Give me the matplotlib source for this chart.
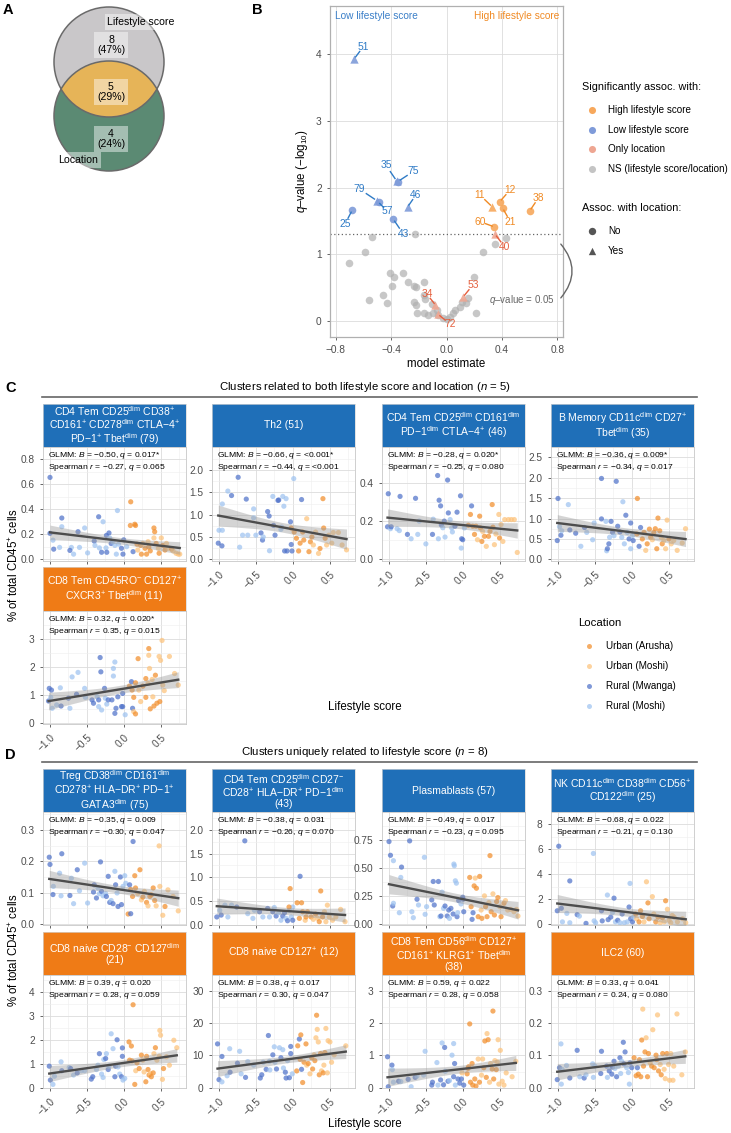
import numpy as np
import matplotlib

matplotlib.use("Agg")
import matplotlib.pyplot as plt
from matplotlib.patches import Circle, FancyArrowPatch

W, H = 731, 1133
plt.rcParams["font.family"] = ["Liberation Sans", "DejaVu Sans"]
plt.rcParams["mathtext.fontset"] = "custom"
plt.rcParams["mathtext.rm"] = "Liberation Sans"
plt.rcParams["mathtext.it"] = "Liberation Sans:italic"
plt.rcParams["mathtext.bf"] = "Liberation Sans:bold"

# ---------------- Panel A: Venn counts ----------------
VENN_SETS = ["Lifestyle score", "Location"]
VENN_COUNTS = [8, 5, 4]          # lifestyle only, both, location only
VENN_PCT = [47, 29, 24]

# ---------------- Panel B: volcano ----------------
# labelled clusters: id, model estimate, -log10 q, category, assoc. with location
B_ID = [51, 35, 75, 79, 57, 46, 25, 43, 11, 12, 21, 38, 60, 40, 34, 72, 53]
B_EST = [-0.665, -0.36, -0.35, -0.50, -0.49, -0.28, -0.68, -0.385,
         0.33, 0.385, 0.405, 0.60, 0.345, 0.35, -0.08, -0.06, 0.12]
B_Q = [3.93, 2.10, 2.09, 1.80, 1.78, 1.71, 1.66, 1.53,
       1.71, 1.79, 1.69, 1.65, 1.41, 1.30, 0.24, 0.10, 0.36]
B_CAT = ["low"] * 8 + ["high"] * 5 + ["loc"] * 4
B_LOC = [1, 1, 0, 1, 0, 1, 0, 0, 1, 0, 0, 0, 0, 1, 1, 1, 1]
# label anchor positions (data units)
B_LAB_X = [-0.60, -0.435, -0.24, -0.63, -0.43, -0.22, -0.73, -0.31,
           0.24, 0.457, 0.46, 0.665, 0.24, 0.42, -0.142, 0.025, 0.19]
B_LAB_Y = [4.11, 2.33, 2.24, 1.98, 1.65, 1.89, 1.46, 1.30,
           1.89, 1.96, 1.49, 1.85, 1.49, 1.11, 0.405, -0.045, 0.54]

# non-significant clusters
NS_X = [-0.70, -0.59, -0.54, -0.56, -0.46, -0.43, -0.41, -0.38, -0.39, -0.315,
        -0.275, -0.235, -0.22, -0.235, -0.22, -0.16, -0.165, -0.155, -0.215, -0.165,
        -0.13, -0.10, -0.105, -0.07, -0.06, -0.025, 0.0, 0.025, 0.05, 0.06,
        0.10, 0.11, 0.14, 0.155, 0.20, 0.215, -0.23, 0.265, 0.35, 0.43]
NS_Y = [0.865, 1.04, 1.26, 0.315, 0.39, 0.27, 0.72, 0.66, 0.53, 0.72,
        0.58, 0.53, 0.505, 0.29, 0.24, 0.58, 0.39, 0.325, 0.115, 0.115,
        0.09, 0.115, 0.255, 0.165, 0.09, 0.04, 0.025, 0.065, 0.115, 0.165,
        0.215, 0.29, 0.265, 0.34, 0.66, 0.115, 1.30, 1.04, 1.15, 1.25]

Q_THRESH = 0.05

# ---------------- Panels C/D: per-cluster scatter data ----------------
# (lifestyle score, % of CD45+ cells, location code)
# A = Urban (Arusha), M = Urban (Moshi), W = Rural (Mwanga), R = Rural (Moshi)
P79 = [(-1.0, 0.656, "W"), (-1.0, 0.207, "W"), (-0.96, 0.152, "R"), (-0.95, 0.08, "W"),
       (-0.87, 0.094, "R"), (-0.84, 0.33, "W"), (-0.84, 0.26, "R"), (-0.71, 0.094, "R"),
       (-0.73, 0.07, "W"), (-0.68, 0.04, "R"), (-0.62, 0.22, "W"), (-0.60, 0.094, "R"),
       (-0.53, 0.25, "R"), (-0.49, 0.05, "R"), (-0.40, 0.145, "W"), (-0.39, 0.11, "R"),
       (-0.34, 0.34, "W"), (-0.33, 0.09, "R"), (-0.30, 0.055, "W"), (-0.28, 0.30, "R"),
       (-0.24, 0.09, "R"), (-0.235, 0.19, "W"), (-0.23, 0.055, "W"), (-0.20, 0.21, "W"),
       (-0.19, 0.17, "R"), (-0.17, 0.125, "W"), (-0.145, 0.14, "R"), (-0.12, 0.11, "R"),
       (-0.10, 0.04, "R"), (-0.085, 0.39, "R"), (-0.07, 0.12, "R"), (-0.03, 0.087, "W"),
       (-0.01, 0.04, "W"), (0.0, 0.155, "W"), (0.04, 0.10, "R"),
       (0.095, 0.46, "A"), (0.09, 0.27, "A"), (0.127, 0.06, "W"), (0.15, 0.28, "A"),
       (0.16, 0.27, "A"), (0.18, 0.12, "A"), (0.19, 0.073, "M"), (0.23, 0.11, "A"),
       (0.24, 0.04, "A"), (0.26, 0.126, "M"), (0.29, 0.087, "A"), (0.31, 0.04, "A"),
       (0.33, 0.14, "M"), (0.34, 0.097, "A"), (0.36, 0.066, "A"), (0.41, 0.25, "A"),
       (0.42, 0.22, "A"), (0.41, 0.17, "M"), (0.44, 0.126, "A"), (0.47, 0.087, "M"),
       (0.48, 0.047, "A"), (0.51, 0.17, "M"), (0.53, 0.11, "A"), (0.56, 0.073, "A"),
       (0.58, 0.126, "M"), (0.60, 0.087, "M"), (0.65, 0.08, "A"), (0.67, 0.066, "M"),
       (0.71, 0.047, "M"), (0.74, 0.04, "M"), (0.76, 0.04, "M")]

P51 = [(-1.01, 0.36, "W"), (-0.96, 0.30, "W"), (-1.0, 0.65, "R"), (-0.955, 0.65, "R"),
       (-0.955, 1.24, "R"), (-0.88, 1.53, "R"), (-0.83, 1.43, "W"), (-0.74, 1.84, "W"),
       (-0.72, 0.27, "R"), (-0.68, 0.54, "R"), (-0.63, 1.35, "W"), (-0.61, 0.54, "R"),
       (-0.53, 1.13, "R"), (-0.50, 0.54, "R"), (-0.53, 0.93, "R"), (-0.43, 0.59, "W"),
       (-0.41, 0.43, "W"), (-0.40, 0.50, "R"), (-0.34, 1.07, "W"), (-0.32, 0.97, "W"),
       (-0.315, 0.19, "R"), (-0.27, 1.41, "R"), (-0.26, 0.76, "W"), (-0.24, 0.54, "W"),
       (-0.20, 1.32, "W"), (-0.19, 1.33, "W"), (-0.135, 1.41, "R"), (-0.12, 1.19, "R"),
       (-0.09, 1.36, "R"), (-0.11, 0.185, "W"), (-0.077, 0.185, "W"), (-0.03, 0.84, "W"),
       (-0.02, 0.33, "W"), (-0.01, 0.185, "W"), (0.014, 1.81, "R"), (0.12, 1.34, "W"),
       (-0.16, 0.67, "R"), (-0.15, 0.72, "R"),
       (-0.02, 0.70, "A"), (0.02, 0.61, "A"), (0.05, 0.47, "A"), (0.08, 0.185, "A"),
       (0.10, 0.36, "A"), (0.135, 0.61, "A"), (0.15, 0.43, "A"), (0.19, 0.91, "M"),
       (0.22, 0.17, "A"), (0.24, 0.39, "A"), (0.26, 0.50, "A"), (0.28, 0.32, "M"),
       (0.31, 0.61, "M"), (0.35, 0.13, "M"), (0.37, 0.24, "A"), (0.41, 1.36, "A"),
       (0.42, 0.70, "A"), (0.44, 0.47, "A"), (0.46, 0.32, "M"), (0.49, 0.54, "M"),
       (0.53, 0.36, "M"), (0.55, 0.60, "M"), (0.62, 0.60, "M"), (0.67, 0.32, "M"),
       (0.73, 0.21, "M")]

P46 = [(-1.01, 0.344, "W"), (-1.02, 0.17, "W"), (-0.98, 0.16, "R"), (-0.97, 0.17, "W"),
       (-0.89, 0.16, "R"), (-0.85, 0.33, "W"), (-0.86, 0.15, "R"), (-0.75, 0.13, "W"),
       (-0.70, 0.107, "R"), (-0.64, 0.32, "W"), (-0.61, 0.13, "R"), (-0.59, 0.20, "R"),
       (-0.50, 0.08, "R"), (-0.41, 0.13, "W"), (-0.40, 0.21, "R"), (-0.34, 0.44, "W"),
       (-0.33, 0.107, "R"), (-0.32, 0.31, "W"), (-0.30, 0.28, "W"), (-0.29, 0.18, "W"),
       (-0.27, 0.165, "R"), (-0.25, 0.20, "W"), (-0.24, 0.116, "R"), (-0.205, 0.416, "W"),
       (-0.195, 0.243, "W"), (-0.17, 0.208, "R"), (-0.15, 0.164, "R"), (-0.14, 0.143, "R"),
       (-0.105, 0.173, "W"), (-0.077, 0.247, "W"), (-0.03, 0.333, "W"), (-0.014, 0.107, "W"),
       (0.0, 0.102, "W"), (-0.02, 0.058, "R"), (0.023, 0.164, "R"),
       (0.077, 0.178, "A"), (0.105, 0.235, "A"), (0.12, 0.28, "W"), (0.136, 0.173, "A"),
       (0.16, 0.13, "A"), (0.18, 0.173, "A"), (0.20, 0.102, "M"), (0.23, 0.226, "A"),
       (0.24, 0.164, "A"), (0.26, 0.093, "A"), (0.27, 0.146, "M"), (0.295, 0.12, "A"),
       (0.32, 0.067, "M"), (0.35, 0.12, "A"), (0.37, 0.146, "A"), (0.40, 0.287, "A"),
       (0.41, 0.168, "A"), (0.43, 0.076, "M"), (0.45, 0.132, "M"), (0.49, 0.235, "M"),
       (0.50, 0.111, "A"), (0.52, 0.182, "M"), (0.545, 0.093, "M"), (0.57, 0.208, "M"),
       (0.62, 0.208, "M"), (0.66, 0.208, "M"), (0.70, 0.208, "M"), (0.74, 0.035, "M")]

P35 = [(-1.01, 0.46, "W"), (-1.0, 1.49, "W"), (-0.98, 0.80, "R"), (-0.96, 0.59, "W"),
       (-0.95, 0.70, "R"), (-0.86, 1.34, "R"), (-0.84, 0.72, "W"), (-0.76, 0.64, "W"),
       (-0.69, 0.32, "R"), (-0.64, 0.78, "W"), (-0.61, 0.66, "R"), (-0.53, 0.48, "R"),
       (-0.51, 0.89, "R"), (-0.41, 1.98, "W"), (-0.41, 0.99, "W"), (-0.35, 0.93, "R"),
       (-0.34, 0.21, "R"), (-0.33, 0.26, "W"), (-0.31, 0.38, "W"), (-0.30, 0.54, "R"),
       (-0.28, 0.93, "W"), (-0.26, 0.66, "W"), (-0.21, 1.91, "W"), (-0.24, 0.58, "R"),
       (-0.19, 0.81, "W"), (-0.16, 0.67, "W"), (-0.135, 0.54, "R"), (-0.12, 1.41, "R"),
       (-0.10, 0.38, "R"), (-0.08, 1.08, "W"), (-0.06, 0.66, "R"), (-0.036, 0.50, "W"),
       (-0.014, 0.89, "W"), (-0.014, 0.26, "R"), (0.01, 0.58, "R"), (0.02, 0.46, "W"),
       (0.077, 1.49, "A"), (0.07, 0.62, "A"), (0.10, 0.32, "W"), (0.12, 0.78, "W"),
       (0.144, 0.50, "A"), (0.167, 0.66, "A"), (0.19, 0.22, "M"), (0.21, 0.38, "A"),
       (0.24, 0.74, "A"), (0.257, 0.54, "A"), (0.28, 0.48, "M"), (0.30, 0.66, "A"),
       (0.32, 0.75, "A"), (0.34, 0.26, "A"), (0.356, 1.01, "A"), (0.38, 0.70, "A"),
       (0.40, 0.54, "M"), (0.414, 0.38, "A"), (0.437, 0.46, "M"), (0.46, 0.26, "M"),
       (0.48, 0.96, "M"), (0.505, 0.50, "A"), (0.536, 0.38, "M"), (0.57, 0.46, "M"),
       (0.617, 0.22, "M"), (0.685, 0.40, "M"), (0.73, 0.75, "M")]

P11 = [(-1.02, 0.79, "W"), (-1.01, 1.24, "W"), (-0.98, 1.18, "W"), (-0.99, 0.92, "R"),
       (-0.97, 0.53, "R"), (-0.91, 0.65, "R"), (-0.86, 1.26, "R"), (-0.85, 0.61, "W"),
       (-0.75, 0.89, "W"), (-0.73, 0.53, "R"), (-0.70, 1.65, "R"), (-0.64, 1.03, "W"),
       (-0.62, 1.81, "R"), (-0.53, 1.24, "R"), (-0.52, 0.92, "R"), (-0.43, 0.83, "W"),
       (-0.41, 0.71, "W"), (-0.36, 0.94, "R"), (-0.34, 0.83, "W"), (-0.32, 2.34, "W"),
       (-0.31, 1.83, "W"), (-0.34, 0.59, "R"), (-0.30, 0.47, "R"), (-0.26, 1.24, "W"),
       (-0.25, 0.89, "R"), (-0.23, 0.68, "R"), (-0.21, 0.83, "W"), (-0.16, 0.83, "W"),
       (-0.14, 1.95, "R"), (-0.12, 2.18, "R"), (-0.14, 1.68, "R"), (-0.12, 0.35, "W"),
       (-0.105, 0.53, "W"), (-0.08, 0.94, "W"), (-0.03, 0.59, "W"), (-0.014, 0.59, "W"),
       (-0.014, 1.06, "W"), (0.02, 0.30, "R"),
       (0.077, 1.32, "A"), (0.105, 1.48, "W"), (0.114, 1.18, "A"), (0.12, 0.53, "W"),
       (0.136, 0.92, "A"), (0.136, 0.41, "M"), (0.16, 1.44, "A"), (0.16, 0.33, "A"),
       (0.195, 2.30, "A"), (0.205, 1.18, "M"), (0.23, 0.77, "M"), (0.26, 1.32, "A"),
       (0.30, 1.59, "A"), (0.30, 0.92, "A"), (0.33, 1.42, "M"), (0.34, 2.66, "A"),
       (0.34, 2.42, "M"), (0.35, 1.95, "M"), (0.36, 0.51, "A"), (0.386, 1.56, "M"),
       (0.395, 0.94, "M"), (0.41, 0.61, "A"), (0.43, 1.71, "A"), (0.45, 0.71, "A"),
       (0.48, 2.38, "M"), (0.49, 0.77, "A"), (0.50, 2.24, "M"), (0.52, 2.95, "M"),
       (0.53, 1.36, "M"), (0.55, 1.16, "M"), (0.62, 2.38, "M"), (0.69, 1.77, "M"),
       (0.74, 1.36, "M")]

P75 = [(-1.01, 0.213, "W"), (-1.0, 0.19, "W"), (-0.955, 0.12, "R"), (-0.96, 0.094, "W"),
       (-0.87, 0.162, "R"), (-0.84, 0.224, "W"), (-0.85, 0.09, "R"), (-0.73, 0.091, "W"),
       (-0.71, 0.146, "R"), (-0.68, 0.065, "R"), (-0.63, 0.173, "W"), (-0.60, 0.106, "R"),
       (-0.53, 0.194, "R"), (-0.49, 0.067, "R"), (-0.41, 0.102, "W"), (-0.40, 0.125, "W"),
       (-0.37, 0.083, "W"), (-0.35, 0.115, "R"), (-0.33, 0.097, "R"), (-0.315, 0.198, "W"),
       (-0.30, 0.104, "W"), (-0.28, 0.09, "R"), (-0.245, 0.097, "R"), (-0.235, 0.088, "W"),
       (-0.21, 0.152, "W"), (-0.19, 0.069, "W"), (-0.17, 0.075, "R"), (-0.145, 0.065, "W"),
       (-0.12, 0.168, "R"), (-0.11, 0.125, "W"), (-0.09, 0.099, "R"), (-0.077, 0.056, "W"),
       (-0.045, 0.15, "W"), (-0.03, 0.062, "W"), (-0.01, 0.12, "R"), (0.014, 0.154, "R"),
       (0.027, 0.13, "R"),
       (0.06, 0.032, "A"), (0.08, 0.125, "W"), (0.095, 0.033, "W"), (0.127, 0.263, "W"),
       (0.095, 0.11, "A"), (0.12, 0.088, "A"), (0.15, 0.154, "A"), (0.16, 0.115, "A"),
       (0.22, 0.173, "A"), (0.19, 0.097, "M"), (0.24, 0.077, "M"), (0.26, 0.086, "A"),
       (0.28, 0.104, "M"), (0.31, 0.069, "A"), (0.33, 0.058, "M"), (0.355, 0.088, "A"),
       (0.375, 0.093, "A"), (0.40, 0.115, "A"), (0.42, 0.075, "A"), (0.44, 0.058, "M"),
       (0.48, 0.249, "M"), (0.49, 0.12, "M"), (0.53, 0.028, "M"), (0.56, 0.056, "A"),
       (0.60, 0.109, "M"), (0.67, 0.088, "M"), (0.74, 0.042, "M")]

P43 = [(-1.03, 0.16, "W"), (-0.99, 0.30, "R"), (-0.97, 0.20, "W"), (-0.92, 0.41, "R"),
       (-0.88, 0.16, "R"), (-0.83, 0.41, "R"), (-0.76, 0.37, "W"), (-0.65, 1.77, "W"),
       (-0.61, 0.23, "R"), (-0.54, 0.13, "R"), (-0.52, 0.30, "R"), (-0.45, 0.27, "W"),
       (-0.405, 0.16, "R"), (-0.34, 0.34, "W"), (-0.315, 0.16, "R"), (-0.27, 0.27, "W"),
       (-0.25, 0.36, "R"), (-0.225, 0.18, "W"), (-0.19, 0.25, "R"), (-0.16, 0.09, "R"),
       (-0.135, 0.18, "W"), (-0.11, 0.25, "W"), (-0.09, 0.13, "R"), (-0.07, 0.08, "W"),
       (-0.045, 0.30, "R"), (-0.02, 0.16, "R"), (0.0, 0.37, "R"), (0.0, 0.09, "W"),
       (-0.05, 0.37, "A"), (-0.035, 0.76, "A"), (0.06, 0.46, "A"), (0.09, 0.13, "A"),
       (0.10, 1.02, "W"), (0.12, 0.46, "A"), (0.135, 0.27, "A"), (0.17, 0.09, "M"),
       (0.18, 0.16, "A"), (0.20, 0.27, "A"), (0.25, 0.16, "A"), (0.28, 0.11, "M"),
       (0.31, 0.22, "A"), (0.34, 0.13, "M"), (0.36, 0.06, "A"), (0.38, 0.71, "A"),
       (0.405, 0.16, "A"), (0.43, 0.27, "M"), (0.45, 0.06, "M"), (0.47, 0.41, "M"),
       (0.495, 0.16, "M"), (0.54, 0.09, "M"), (0.585, 0.16, "M"), (0.65, 0.32, "M"),
       (0.71, 0.06, "M")]

P57 = [(-1.0, 0.737, "W"), (-0.98, 0.615, "W"), (-0.94, 0.567, "R"), (-0.95, 0.164, "W"),
       (-0.94, 0.188, "R"), (-0.86, 0.104, "R"), (-0.84, 0.418, "R"), (-0.83, 0.51, "W"),
       (-0.72, 0.743, "W"), (-0.69, 0.113, "R"), (-0.67, 0.06, "R"), (-0.62, 0.224, "W"),
       (-0.60, 0.173, "R"), (-0.52, 0.597, "R"), (-0.51, 0.09, "R"), (-0.49, 0.158, "R"),
       (-0.42, 0.218, "W"), (-0.40, 0.382, "W"), (-0.386, 0.173, "W"), (-0.33, 0.382, "W"),
       (-0.31, 0.069, "R"), (-0.295, 0.075, "W"), (-0.28, 0.287, "R"), (-0.26, 0.143, "R"),
       (-0.24, 0.164, "W"), (-0.21, 0.075, "W"), (-0.19, 0.128, "W"), (-0.18, 0.054, "R"),
       (-0.16, 0.143, "W"), (-0.13, 0.093, "W"), (-0.12, 0.537, "R"), (-0.114, 0.522, "R"),
       (-0.10, 0.388, "R"), (-0.086, 0.367, "R"), (-0.077, 0.069, "W"), (-0.068, 0.104, "R"),
       (-0.055, 0.212, "W"), (-0.023, 0.182, "R"), (0.0, 0.242, "W"), (0.005, 0.224, "W"),
       (0.014, 0.113, "W"),
       (0.095, 0.418, "A"), (0.114, 0.158, "A"), (0.127, 0.045, "W"), (0.14, 0.104, "W"),
       (0.155, 0.343, "A"), (0.17, 0.412, "M"), (0.186, 0.322, "A"), (0.21, 0.069, "A"),
       (0.23, 0.427, "A"), (0.25, 0.128, "M"), (0.26, 0.054, "A"), (0.295, 0.254, "M"),
       (0.31, 0.158, "A"), (0.33, 0.069, "A"), (0.355, 0.194, "M"), (0.37, 0.612, "A"),
       (0.386, 0.113, "A"), (0.41, 0.272, "M"), (0.43, 0.084, "A"), (0.46, 0.203, "A"),
       (0.477, 0.239, "A"), (0.505, 0.158, "M"), (0.52, 0.069, "A"), (0.56, 0.188, "A"),
       (0.58, 0.212, "M"), (0.61, 0.128, "M"), (0.65, 0.134, "M"), (0.695, 0.113, "M"),
       (0.73, 0.134, "M"), (0.75, 0.075, "M")]

P25 = [(-0.99, 6.26, "W"), (-1.01, 1.09, "W"), (-0.955, 1.29, "W"), (-0.94, 0.2, "R"),
       (-0.88, 0.88, "R"), (-0.84, 3.48, "W"), (-0.84, 0.13, "R"), (-0.74, 0.78, "W"),
       (-0.71, 0.66, "R"), (-0.62, 0.08, "W"), (-0.52, 5.68, "R"), (-0.51, 0.28, "R"),
       (-0.49, 0.13, "R"), (-0.41, 1.09, "W"), (-0.40, 0.28, "W"), (-0.33, 2.35, "R"),
       (-0.32, 0.38, "W"), (-0.285, 0.58, "W"), (-0.26, 0.96, "R"), (-0.24, 2.10, "W"),
       (-0.22, 0.2, "R"), (-0.19, 0.33, "W"), (-0.16, 0.13, "R"), (-0.13, 0.83, "W"),
       (-0.10, 0.13, "R"), (-0.06, 0.2, "R"), (-0.036, 1.39, "W"), (-0.023, 3.28, "R"),
       (-0.014, 0.45, "W"), (0.01, 0.2, "W"), (0.023, 0.58, "R"),
       (0.054, 0.83, "A"), (0.068, 0.45, "M"), (0.10, 0.2, "A"), (0.12, 1.09, "A"),
       (0.145, 0.63, "A"), (0.167, 0.2, "M"), (0.20, 3.41, "M"), (0.22, 1.72, "A"),
       (0.235, 0.45, "A"), (0.28, 2.22, "M"), (0.30, 0.83, "M"), (0.326, 0.2, "A"),
       (0.357, 0.58, "A"), (0.385, 0.13, "M"), (0.416, 0.53, "A"), (0.44, 0.2, "M"),
       (0.46, 1.89, "A"), (0.484, 1.21, "M"), (0.507, 0.33, "M"), (0.53, 0.13, "M"),
       (0.55, 0.71, "M"), (0.575, 0.58, "M"), (0.62, 0.2, "M"), (0.69, 0.45, "M"),
       (0.733, 0.13, "M")]

P21 = [(-1.01, 0.90, "W"), (-0.995, 0.32, "W"), (-0.96, 0.14, "R"), (-0.94, 0.48, "R"),
       (-0.85, 1.08, "R"), (-0.84, 0.71, "W"), (-0.74, 0.84, "R"), (-0.72, 0.80, "W"),
       (-0.68, 0.53, "R"), (-0.63, 0.62, "W"), (-0.575, 0.71, "R"), (-0.53, 0.71, "R"),
       (-0.44, 0.36, "W"), (-0.42, 0.46, "W"), (-0.37, 0.76, "R"), (-0.35, 0.94, "R"),
       (-0.33, 1.42, "W"), (-0.30, 0.57, "R"), (-0.28, 0.43, "R"), (-0.27, 1.18, "R"),
       (-0.245, 1.22, "W"), (-0.235, 1.42, "R"), (-0.21, 0.76, "W"), (-0.20, 0.90, "R"),
       (-0.17, 2.25, "R"), (-0.145, 1.63, "R"), (-0.12, 0.46, "W"), (-0.11, 0.90, "W"),
       (-0.09, 2.0, "W"), (-0.077, 0.87, "R"), (-0.054, 0.57, "R"), (-0.03, 0.46, "W"),
       (-0.018, 1.66, "W"), (-0.01, 0.32, "R"), (-0.018, 1.31, "W"), (0.014, 0.39, "R"),
       (0.072, 1.91, "A"), (0.08, 1.15, "A"), (0.104, 1.74, "A"), (0.113, 1.12, "A"),
       (0.127, 3.46, "A"), (0.15, 0.14, "A"), (0.163, 0.71, "M"), (0.18, 1.04, "A"),
       (0.21, 0.80, "A"), (0.24, 1.36, "A"), (0.26, 1.15, "M"), (0.276, 0.66, "M"),
       (0.30, 0.25, "A"), (0.31, 1.31, "A"), (0.33, 0.76, "A"), (0.344, 0.53, "A"),
       (0.36, 0.59, "M"), (0.375, 0.46, "A"), (0.40, 0.62, "A"), (0.41, 1.42, "M"),
       (0.43, 1.67, "A"), (0.45, 1.15, "M"), (0.48, 1.31, "M"), (0.49, 2.39, "M"),
       (0.50, 2.19, "M"), (0.525, 0.35, "M"), (0.54, 0.80, "A"), (0.58, 1.29, "M"),
       (0.62, 0.94, "M"), (0.68, 1.98, "M"), (0.72, 1.67, "M")]

P12 = [(-1.02, 13.6, "W"), (-1.0, 2.5, "W"), (-0.96, 9.7, "W"), (-0.96, 1.8, "R"),
       (-0.89, 3.7, "R"), (-0.855, 12.1, "R"), (-0.85, 4.8, "W"), (-0.75, 7.6, "W"),
       (-0.72, 11.3, "R"), (-0.70, 4.3, "R"), (-0.64, 3.2, "W"), (-0.61, 8.1, "R"),
       (-0.53, 7.0, "R"), (-0.44, 3.0, "W"), (-0.42, 4.0, "W"), (-0.40, 7.9, "R"),
       (-0.36, 5.7, "W"), (-0.33, 16.2, "W"), (-0.315, 8.2, "R"), (-0.31, 5.5, "R"),
       (-0.27, 10.2, "W"), (-0.25, 12.7, "R"), (-0.24, 7.9, "R"), (-0.22, 5.8, "W"),
       (-0.18, 12.4, "R"), (-0.16, 9.3, "W"), (-0.135, 11.8, "R"), (-0.126, 6.1, "R"),
       (-0.10, 4.8, "W"), (-0.09, 3.0, "W"), (-0.07, 8.4, "R"), (-0.045, 3.1, "W"),
       (-0.027, 10.6, "W"), (-0.027, 12.8, "W"), (-0.005, 4.3, "R"),
       (0.054, 5.2, "A"), (0.068, 13.0, "A"), (0.09, 15.1, "W"), (0.10, 8.8, "A"),
       (0.11, 16.4, "A"), (0.12, 5.7, "W"), (0.135, 1.6, "A"), (0.153, 7.9, "A"),
       (0.18, 13.6, "A"), (0.19, 7.0, "M"), (0.21, 7.5, "A"), (0.234, 4.3, "M"),
       (0.257, 9.3, "A"), (0.27, 5.8, "A"), (0.29, 10.2, "M"), (0.30, 8.4, "A"),
       (0.315, 15.5, "M"), (0.324, 22.5, "A"), (0.333, 18.1, "M"), (0.347, 14.2, "M"),
       (0.36, 4.0, "A"), (0.378, 10.6, "A"), (0.39, 5.2, "M"), (0.414, 4.6, "A"),
       (0.423, 7.0, "M"), (0.437, 10.9, "A"), (0.45, 18.4, "M"), (0.47, 4.6, "M"),
       (0.48, 14.6, "M"), (0.505, 14.2, "M"), (0.527, 7.9, "M"), (0.563, 10.2, "M"),
       (0.72, 13.0, "M")]

P38 = [(-1.02, 0.96, "W"), (-1.01, 0.03, "W"), (-0.96, 0.70, "W"), (-0.955, 0.56, "R"),
       (-0.94, 0.17, "R"), (-0.87, 0.20, "W"), (-0.84, 0.19, "R"), (-0.74, 0.26, "W"),
       (-0.70, 0.03, "R"), (-0.645, 0.32, "W"), (-0.62, 0.36, "R"), (-0.51, 1.13, "R"),
       (-0.53, 0.39, "R"), (-0.42, 0.08, "W"), (-0.41, 0.17, "W"), (-0.35, 0.78, "R"),
       (-0.336, 0.08, "R"), (-0.30, 0.24, "W"), (-0.28, 1.39, "R"), (-0.26, 0.09, "W"),
       (-0.245, 1.25, "W"), (-0.236, 0.51, "R"), (-0.20, 0.20, "W"), (-0.18, 0.22, "R"),
       (-0.145, 1.01, "R"), (-0.123, 1.37, "R"), (-0.11, 0.75, "W"), (-0.123, 0.34, "W"),
       (-0.10, 0.08, "R"), (-0.064, 0.27, "W"), (-0.04, 0.14, "W"), (-0.018, 0.27, "W"),
       (-0.01, 0.46, "M"), (0.014, 0.08, "W"),
       (0.06, 0.43, "A"), (0.073, 0.60, "A"), (0.08, 0.65, "A"), (0.095, 1.98, "A"),
       (0.105, 0.17, "A"), (0.127, 0.75, "A"), (0.136, 0.08, "A"), (0.164, 0.27, "A"),
       (0.18, 0.05, "A"), (0.21, 0.89, "M"), (0.227, 0.17, "A"), (0.255, 0.39, "M"),
       (0.27, 0.89, "M"), (0.286, 0.62, "A"), (0.30, 1.45, "A"), (0.32, 0.32, "A"),
       (0.33, 1.68, "M"), (0.345, 1.49, "A"), (0.364, 0.17, "M"), (0.377, 0.75, "M"),
       (0.40, 0.58, "A"), (0.41, 2.38, "A"), (0.42, 0.27, "A"), (0.436, 0.84, "M"),
       (0.455, 0.56, "A"), (0.47, 0.80, "M"), (0.48, 1.49, "M"), (0.49, 0.11, "M"),
       (0.51, 1.16, "M"), (0.536, 0.20, "M"), (0.56, 0.08, "M"), (0.59, 0.46, "M"),
       (0.67, 0.34, "M"), (0.72, 0.82, "M")]

P60 = [(-1.01, 0.025, "W"), (-0.98, 0.062, "W"), (-0.96, 0.136, "R"), (-0.945, 0.057, "R"),
       (-0.955, 0.011, "R"), (-0.885, 0.069, "R"), (-0.84, 0.03, "W"), (-0.74, 0.116, "W"),
       (-0.705, 0.034, "R"), (-0.645, 0.03, "W"), (-0.62, 0.04, "R"), (-0.53, 0.074, "R"),
       (-0.52, 0.032, "R"), (-0.50, 0.067, "R"), (-0.41, 0.113, "W"), (-0.42, 0.044, "W"),
       (-0.34, 0.067, "W"), (-0.33, 0.032, "R"), (-0.305, 0.052, "W"), (-0.295, 0.067, "R"),
       (-0.27, 0.042, "W"), (-0.26, 0.064, "W"), (-0.24, 0.082, "W"), (-0.227, 0.06, "R"),
       (-0.205, 0.034, "W"), (-0.18, 0.067, "R"), (-0.16, 0.093, "W"), (-0.15, 0.044, "R"),
       (-0.136, 0.082, "R"), (-0.114, 0.141, "W"), (-0.105, 0.074, "W"), (-0.09, 0.111, "W"),
       (-0.068, 0.062, "R"), (-0.045, 0.047, "R"), (-0.032, 0.011, "R"), (-0.023, 0.077, "W"),
       (0.0, 0.062, "W"),
       (0.032, 0.093, "A"), (0.06, 0.037, "A"), (0.077, 0.062, "W"), (0.09, 0.042, "A"),
       (0.105, 0.087, "A"), (0.123, 0.034, "A"), (0.136, 0.148, "A"), (0.15, 0.244, "M"),
       (0.16, 0.067, "A"), (0.18, 0.111, "A"), (0.195, 0.155, "M"), (0.214, 0.034, "A"),
       (0.227, 0.106, "A"), (0.25, 0.077, "M"), (0.27, 0.067, "A"), (0.286, 0.18, "M"),
       (0.305, 0.062, "A"), (0.33, 0.101, "A"), (0.34, 0.087, "A"), (0.35, 0.226, "M"),
       (0.364, 0.052, "A"), (0.386, 0.072, "M"), (0.40, 0.04, "A"), (0.42, 0.106, "A"),
       (0.44, 0.057, "M"), (0.455, 0.028, "M"), (0.477, 0.106, "A"), (0.50, 0.072, "M"),
       (0.514, 0.023, "M"), (0.53, 0.106, "M"), (0.56, 0.023, "M"), (0.57, 0.067, "M"),
       (0.614, 0.229, "M"), (0.68, 0.04, "M"), (0.727, 0.111, "M")]

# strip titles
T79 = "CD4 Tem CD25$^{\\rm dim}$ CD38$^{+}$\nCD161$^{+}$ CD278$^{\\rm dim}$ CTLA−4$^{+}$\nPD−1$^{+}$ Tbet$^{\\rm dim}$ (79)"
T51 = "Th2 (51)"
T46 = "CD4 Tem CD25$^{\\rm dim}$ CD161$^{\\rm dim}$\nPD−1$^{\\rm dim}$ CTLA−4$^{+}$ (46)"
T35 = "B Memory CD11c$^{\\rm dim}$ CD27$^{+}$\nTbet$^{\\rm dim}$ (35)"
T11 = "CD8 Tem CD45RO$^{-}$ CD127$^{+}$\nCXCR3$^{+}$ Tbet$^{\\rm dim}$ (11)"
T75 = "Treg CD38$^{\\rm dim}$ CD161$^{\\rm dim}$\nCD278$^{+}$ HLA−DR$^{+}$ PD−1$^{+}$\nGATA3$^{\\rm dim}$ (75)"
T43 = "CD4 Tem CD25$^{\\rm dim}$ CD27$^{-}$\nCD28$^{+}$ HLA−DR$^{+}$ PD−1$^{\\rm dim}$\n(43)"
T57 = "Plasmablasts (57)"
T25 = "NK CD11c$^{\\rm dim}$ CD38$^{\\rm dim}$ CD56$^{+}$\nCD122$^{\\rm dim}$ (25)"
T21 = "CD8 naive CD28$^{-}$ CD127$^{\\rm dim}$\n(21)"
T12 = "CD8 naive CD127$^{+}$ (12)"
T38 = "CD8 Tem CD56$^{\\rm dim}$ CD127$^{+}$\nCD161$^{+}$ KLRG1$^{+}$ Tbet$^{\\rm dim}$\n(38)"
T60 = "ILC2 (60)"

# GLMM estimate / q and Spearman r / q per cluster
GLMM_B = {79: "−0.50", 51: "−0.66", 46: "−0.28", 35: "−0.36", 11: "0.32", 75: "−0.35",
          43: "−0.38", 57: "−0.49", 25: "−0.68", 21: "0.39", 12: "0.38", 38: "0.59", 60: "0.33"}
GLMM_Q = {79: "0.017*", 51: "<0.001*", 46: "0.020*", 35: "0.009*", 11: "0.020*", 75: "0.009",
          43: "0.031", 57: "0.017", 25: "0.022", 21: "0.020", 12: "0.017", 38: "0.022", 60: "0.041"}
SP_R = {79: "−0.27", 51: "−0.44", 46: "−0.25", 35: "−0.34", 11: "0.35", 75: "−0.30",
        43: "−0.26", 57: "−0.23", 25: "−0.21", 21: "0.28", 12: "0.30", 38: "0.28", 60: "0.24"}
SP_Q = {79: "0.065", 51: "<0.001", 46: "0.080", 35: "0.017", 11: "0.015", 75: "0.047",
        43: "0.070", 57: "0.095", 25: "0.130", 21: "0.059", 12: "0.047", 38: "0.058", 60: "0.080"}

LOC_NAMES = ["Urban (Arusha)", "Urban (Moshi)", "Rural (Mwanga)", "Rural (Moshi)"]
LOC_CODES = ["A", "M", "W", "R"]

# ---------------- styling ----------------
LOC_COLORS = {"A": "#f28e2b", "M": "#fdc27a", "W": "#4f72c9", "R": "#9ec3f0"}
STRIP_BLUE = "#1f6fb8"
STRIP_ORANGE = "#ef7b16"
CAT_COLORS = {"high": "#f7a85c", "low": "#7f9bd9", "loc": "#eea692"}
LAB_COLORS = {"high": "#f08a24", "low": "#2f7bc6", "loc": "#e5603f"}
TICK_C = "#4d4d4d"
GRID_C = "#dcdcdc"
GRID_MINOR = "#eeeeee"


def pxrect(x0, x1, y0, y1):
    return [x0 / W, 1 - y1 / H, (x1 - x0) / W, (y1 - y0) / H]


fig = plt.figure(figsize=(W / 100, H / 100), dpi=100)

# overlay for free-positioned text and shapes, pixel coordinates
ov = fig.add_axes([0, 0, 1, 1], zorder=10)
ov.set_xlim(0, W)
ov.set_ylim(H, 0)
ov.axis("off")
ov.patch.set_alpha(0)

# ---------- Panel A ----------
top = Circle((109, 62), 55, fc="#c9c7c9", ec="none")
bot = Circle((109, 116), 55, fc="#5b8a73", ec="none")
ov.add_patch(top)
ov.add_patch(bot)
inter = Circle((109, 62), 55, fc="#e6b458", ec="none")
ov.add_patch(inter)
inter.set_clip_path(bot)
for c in [(109, 62), (109, 116)]:
    ov.add_patch(Circle(c, 55, fc="none", ec="#6a6a6a", lw=1.1))
box = dict(boxstyle="square,pad=0.25", fc="white", ec="none", alpha=0.45)
ov.text(141, 22, VENN_SETS[0], ha="center", va="center", fontsize=7.6, bbox=box)
ov.text(78, 160, VENN_SETS[1], ha="center", va="center", fontsize=7.6, bbox=box)
for cy, n, p in zip([45, 92, 139], VENN_COUNTS, VENN_PCT):
    ov.text(111, cy, f"{n}\n({p}%)", ha="center", va="center", fontsize=7.6,
            linespacing=1.05, bbox=box)
ov.text(3, 10, "A", fontsize=10.5, fontweight="bold", va="center")

# ---------- Panel B ----------
axb = fig.add_axes(pxrect(330, 563, 6, 337))
axb.set_xlim(-0.84, 0.84)
axb.set_ylim(-0.24, 4.72)
axb.set_xticks([-0.8, -0.4, 0.0, 0.4, 0.8])
axb.set_xticklabels(["−0.8", "−0.4", "0.0", "0.4", "0.8"])
axb.set_yticks([0, 1, 2, 3, 4])
axb.grid(True, color=GRID_C, lw=0.6)
axb.set_axisbelow(True)
for s in axb.spines.values():
    s.set_color("#b0b0b0")
    s.set_linewidth(0.9)
axb.tick_params(labelsize=7.3, colors=TICK_C, length=2.5, width=0.6)
axb.set_xlabel("model estimate", fontsize=8.3, labelpad=2)
axb.set_ylabel("$q$–value (−log$_{10}$)", fontsize=8.3, labelpad=4)
axb.axhline(-np.log10(Q_THRESH), color="#666666", lw=0.9, ls=(0, (1, 2)), zorder=1)
axb.scatter(NS_X, NS_Y, s=30, color="#b0b0b0", alpha=0.7, lw=0, zorder=2)
for cid, x, y, cat, loc, lx, ly in zip(B_ID, B_EST, B_Q, B_CAT, B_LOC, B_LAB_X, B_LAB_Y):
    axb.scatter([x], [y], s=36 if loc else 30, marker="^" if loc else "o",
                color=CAT_COLORS[cat], alpha=0.9, lw=0, zorder=3)
    dx, dy = lx - x, ly - y
    axb.plot([x + 0.15 * dx, x + 0.6 * dx], [y + 0.15 * dy, y + 0.6 * dy],
             color=LAB_COLORS[cat], lw=1.0, zorder=4)
    axb.text(lx, ly, str(cid), color=LAB_COLORS[cat], fontsize=7.4, ha="center",
             va="center", zorder=5)
axb.text(0.02, 0.985, "Low lifestyle score", transform=axb.transAxes, color="#3a7fc8",
         fontsize=7.3, ha="left", va="top")
axb.text(0.985, 0.985, "High lifestyle score", transform=axb.transAxes, color="#f08a24",
         fontsize=7.3, ha="right", va="top")
ov.text(555, 300, "$q$–value = 0.05", color="#666666", fontsize=7, ha="right",
        va="center")
ov.add_patch(FancyArrowPatch((559, 242), (559, 300), connectionstyle="arc3,rad=-0.45",
                             arrowstyle="-", color="#666666", lw=1.0))
ov.text(252, 10, "B", fontsize=10.5, fontweight="bold", va="center")

# legend for B
ov.text(582, 87, "Significantly assoc. with:", fontsize=7.8, va="center")
leg_b = [("High lifestyle score", CAT_COLORS["high"]), ("Low lifestyle score", CAT_COLORS["low"]),
         ("Only location", CAT_COLORS["loc"]), ("NS (lifestyle score/location)", "#c4c4c4")]
for i, (lab, col) in enumerate(leg_b):
    yy = 110 + i * 19.7
    ov.scatter([592], [yy], s=26, color=col, lw=0)
    ov.text(608, yy, lab, fontsize=7.1, va="center")
ov.text(582, 208, "Assoc. with location:", fontsize=7.8, va="center")
for i, (lab, mk) in enumerate([("No", "o"), ("Yes", "^")]):
    yy = 231 + i * 20
    ov.scatter([592], [yy], s=28, marker=mk, color="#555555", lw=0)
    ov.text(608, yy, lab, fontsize=7.1, va="center")


# ---------- Panels C, D ----------
def lm_band(x, y, xs):
    x = np.asarray(x)
    y = np.asarray(y)
    n = len(x)
    b, a = np.polyfit(x, y, 1)
    resid = y - (a + b * x)
    s = np.sqrt(np.sum(resid ** 2) / (n - 2))
    xm = x.mean()
    se = s * np.sqrt(1 / n + (xs - xm) ** 2 / np.sum((x - xm) ** 2))
    return a + b * xs, 1.99 * se


def facet(cid, pts, title, scol, col, strip, axy, ylim, yticks, ylabels, xlabels):
    x0, x1 = col
    sx = fig.add_axes(pxrect(x0, x1, strip[0], strip[1]))
    sx.set_facecolor(scol)
    sx.set_xticks([])
    sx.set_yticks([])
    for s in sx.spines.values():
        s.set_color("#d6d6d6")
        s.set_linewidth(0.5)
    sx.text(0.5, 0.5, title, transform=sx.transAxes, ha="center", va="center",
            color="white", fontsize=7.5, linespacing=1.0)

    ax = fig.add_axes(pxrect(x0, x1, axy[0], axy[1]))
    ax.set_xlim(-1.095, 0.845)
    ax.set_ylim(*ylim)
    ax.set_xticks([-1.0, -0.5, 0.0, 0.5])
    ax.set_xticks([-0.75, -0.25, 0.25, 0.75], minor=True)
    ax.set_yticks(yticks)
    ax.set_yticks([(a + b) / 2 for a, b in zip(yticks[:-1], yticks[1:])] +
                  [yticks[-1] + (yticks[1] - yticks[0]) / 2], minor=True)
    ax.set_yticklabels(ylabels)
    ax.grid(True, which="major", color=GRID_C, lw=0.6)
    ax.grid(True, which="minor", color=GRID_MINOR, lw=0.4)
    ax.set_axisbelow(True)
    for s in ax.spines.values():
        s.set_color("#c8c8c8")
        s.set_linewidth(0.6)
    ax.tick_params(which="major", labelsize=7.3, colors=TICK_C, length=2.5, width=0.6)
    ax.tick_params(which="minor", length=0)
    if xlabels:
        ax.set_xticklabels(["−1.0", "−0.5", "0.0", "0.5"], rotation=45, ha="right",
                           rotation_mode="anchor")
    else:
        ax.set_xticklabels([])

    xs = np.array([p[0] for p in pts])
    ys = np.array([p[1] for p in pts])
    gs = [p[2] for p in pts]
    ax.scatter(xs, ys, s=14, c=[LOC_COLORS[g] for g in gs], alpha=0.72, lw=0, zorder=2)
    grid_x = np.linspace(xs.min(), xs.max(), 60)
    fit, half = lm_band(xs, ys, grid_x)
    ax.fill_between(grid_x, fit - half, fit + half, color="#9a9a9a", alpha=0.42,
                    lw=0, zorder=3)
    ax.plot(grid_x, fit, color="#4d4d4d", lw=1.7, zorder=4)
    ax.text(0.035, 0.975,
            f"GLMM: $B$ = {GLMM_B[cid]}, $q$ = {GLMM_Q[cid]}\n"
            f"Spearman $r$ = {SP_R[cid]}, $q$ = {SP_Q[cid]}",
            transform=ax.transAxes, ha="left", va="top", fontsize=6.1,
            linespacing=1.2, zorder=5)
    return ax


COLS = [(43, 186), (212, 355), (382, 525), (551, 694)]

# section C
ov.text(365, 387, "Clusters related to both lifestyle score and location ($n$ = 5)",
        ha="center", va="center", fontsize=8.2)
ov.plot([42, 697], [397, 397], color="#666666", lw=1.2)
ov.text(5, 388, "C", fontsize=10.5, fontweight="bold", va="center")

S1, A1 = (404, 447), (447, 561)
S2, A2 = (567, 611), (611, 724)
facet(79, P79, T79, STRIP_BLUE, COLS[0], S1, A1, (-0.015, 0.885),
      [0, 0.2, 0.4, 0.6, 0.8], ["0.0", "0.2", "0.4", "0.6", "0.8"], False)
facet(51, P51, T51, STRIP_BLUE, COLS[1], S1, A1, (-0.04, 2.52),
      [0, 0.5, 1.0, 1.5, 2.0], ["0.0", "0.5", "1.0", "1.5", "2.0"], True)
facet(46, P46, T46, STRIP_BLUE, COLS[2], S1, A1, (-0.01, 0.59),
      [0, 0.2, 0.4], ["0.0", "0.2", "0.4"], True)
facet(35, P35, T35, STRIP_BLUE, COLS[3], S1, A1, (-0.04, 2.67),
      [0, 0.5, 1.0, 1.5, 2.0, 2.5], ["0.0", "0.5", "1.0", "1.5", "2.0", "2.5"], True)
facet(11, P11, T11, STRIP_ORANGE, COLS[0], S2, A2, (-0.03, 4.0),
      [0, 1, 2, 3], ["0", "1", "2", "3"], True)

ov.text(14, 565, "% of total CD45$^{+}$ cells", rotation=90, ha="center", va="center",
        fontsize=8.3)
ov.text(365, 707, "Lifestyle score", ha="center", va="center", fontsize=8.3)

# location legend
ov.text(578, 623, "Location", fontsize=8.2, va="center")
for i, (code, lab) in enumerate(zip(LOC_CODES, LOC_NAMES)):
    yy = 646 + i * 20
    ov.scatter([589], [yy], s=13, color=LOC_COLORS[code], alpha=0.72, lw=0)
    ov.text(606, yy, lab, fontsize=7.1, va="center")

# section D
ov.text(365, 752, "Clusters uniquely related to lifestyle score ($n$ = 8)",
        ha="center", va="center", fontsize=8.2)
ov.plot([42, 697], [762, 762], color="#666666", lw=1.2)
ov.text(5, 755, "D", fontsize=10.5, fontweight="bold", va="center")

S3, A3 = (769, 812), (812, 925)
S4, A4 = (932, 975), (975, 1088)
facet(75, P75, T75, STRIP_BLUE, COLS[0], S3, A3, (-0.003, 0.357),
      [0, 0.1, 0.2, 0.3], ["0.0", "0.1", "0.2", "0.3"], False)
facet(43, P43, T43, STRIP_BLUE, COLS[1], S3, A3, (-0.01, 2.38),
      [0, 0.5, 1.0, 1.5, 2.0], ["0.0", "0.5", "1.0", "1.5", "2.0"], False)
facet(57, P57, T57, STRIP_BLUE, COLS[2], S3, A3, (-0.005, 1.0),
      [0, 0.25, 0.5, 0.75], ["0.00", "0.25", "0.50", "0.75"], False)
facet(25, P25, T25, STRIP_BLUE, COLS[3], S3, A3, (-0.05, 8.53),
      [0, 2, 4, 6, 8], ["0", "2", "4", "6", "8"], False)
facet(21, P21, T21, STRIP_ORANGE, COLS[0], S4, A4, (-0.01, 4.7),
      [0, 1, 2, 3, 4], ["0", "1", "2", "3", "4"], True)
facet(12, P12, T12, STRIP_ORANGE, COLS[1], S4, A4, (-0.1, 30.5),
      [0, 10, 20, 30], ["0", "10", "20", "30"], True)
facet(38, P38, T38, STRIP_ORANGE, COLS[2], S4, A4, (-0.01, 3.24),
      [0, 1, 2, 3], ["0", "1", "2", "3"], True)
facet(60, P60, T60, STRIP_ORANGE, COLS[3], S4, A4, (-0.001, 0.332),
      [0, 0.1, 0.2, 0.3], ["0.0", "0.1", "0.2", "0.3"], True)

ov.text(14, 950, "% of total CD45$^{+}$ cells", rotation=90, ha="center", va="center",
        fontsize=8.3)
ov.text(365, 1124, "Lifestyle score", ha="center", va="center", fontsize=8.3)

fig.savefig("out.png", dpi=100)
